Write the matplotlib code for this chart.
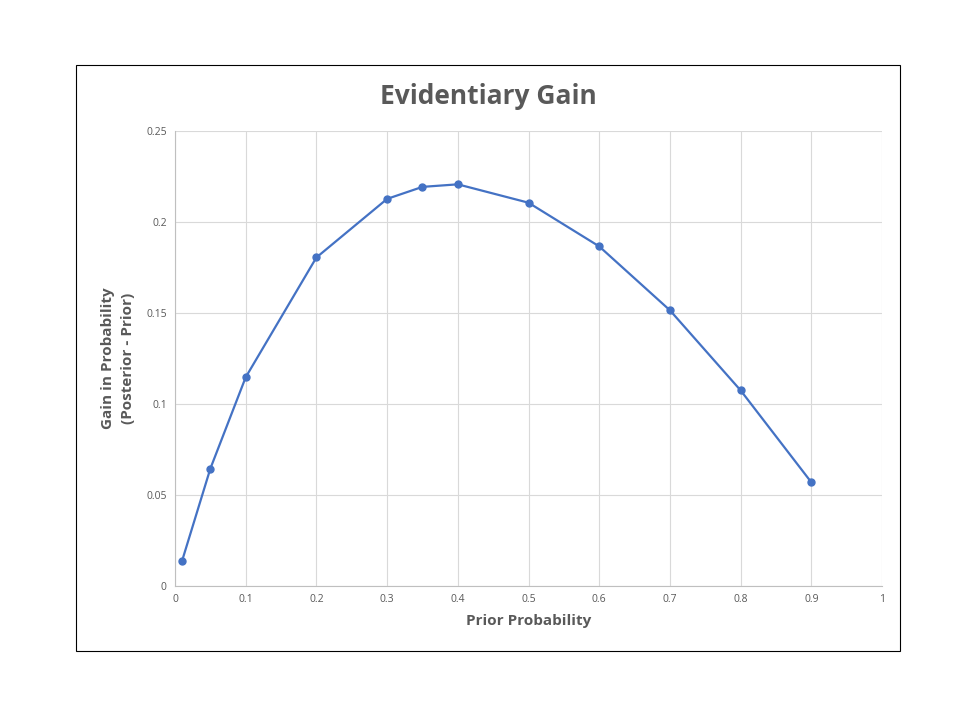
import matplotlib
matplotlib.use("Agg")
import matplotlib.pyplot as plt
from matplotlib.patches import Rectangle

# --- Data ---
prior = [0.01, 0.05, 0.1, 0.2, 0.3, 0.35, 0.4, 0.5, 0.6, 0.7, 0.8, 0.9]
gain = [0.0138, 0.0645, 0.1147, 0.1805, 0.2127, 0.2193, 0.2207, 0.2106, 0.1866, 0.1515, 0.1075, 0.0570]

x_ticks = [0, 0.1, 0.2, 0.3, 0.4, 0.5, 0.6, 0.7, 0.8, 0.9, 1]
x_labels = ["0", "0.1", "0.2", "0.3", "0.4", "0.5", "0.6", "0.7", "0.8", "0.9", "1"]
y_ticks = [0, 0.05, 0.1, 0.15, 0.2, 0.25]
y_labels = ["0", "0.05", "0.1", "0.15", "0.2", "0.25"]

plt.rcParams["font.family"] = ["Open Sans", "DejaVu Sans"]
grey = "#595959"

fig = plt.figure(figsize=(9.6, 7.2), dpi=100)
fig.patches.append(Rectangle((76 / 960, 1 - 651 / 720), 824 / 960, 586 / 720,
                             transform=fig.transFigure, fill=False,
                             edgecolor="black", linewidth=0.8))

ax = fig.add_axes([175 / 960, 1 - 586 / 720, 707 / 960, 455 / 720])
ax.plot(prior, gain, color="#4472C4", linewidth=1.6, marker="o", markersize=5)

ax.set_xlim(0, 1)
ax.set_ylim(0, 0.25)
ax.set_xticks(x_ticks)
ax.set_xticklabels(x_labels)
ax.set_yticks(y_ticks)
ax.set_yticklabels(y_labels)
ax.tick_params(axis="both", length=0, labelsize=7.5, labelcolor=grey, pad=6)

ax.grid(True, color="#d9d9d9", linewidth=0.8)
ax.set_axisbelow(True)
for side in ["top", "right"]:
    ax.spines[side].set_visible(False)
for side in ["left", "bottom"]:
    ax.spines[side].set_color("#bfbfbf")
    ax.spines[side].set_linewidth(0.8)

ax.set_xlabel("Prior Probability", fontsize=11, fontweight="bold", color=grey, labelpad=6)
ax.set_ylabel("Gain in Probability\n(Posterior - Prior)", fontsize=11, fontweight="bold",
              color=grey, labelpad=8, linespacing=1.5)
fig.text(488 / 960, 1 - 96 / 720, "Evidentiary Gain", ha="center", va="center",
         fontsize=19, fontweight="bold", color=grey)

plt.savefig("out.png", dpi=100)
